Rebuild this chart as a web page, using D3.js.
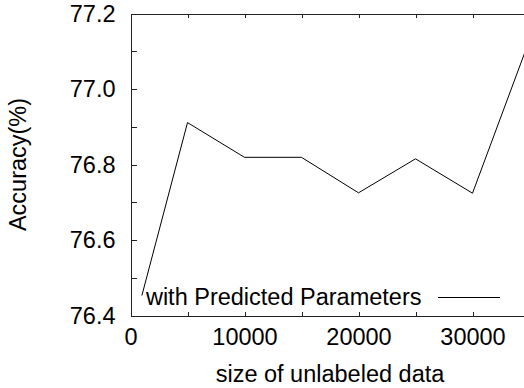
<!DOCTYPE html>
<html>
<head>
<meta charset="utf-8">
<script src="https://cdn.jsdelivr.net/npm/d3@7"></script>
<style>
  html, body { margin: 0; padding: 0; background: #fff; }
  svg { display: block; font-family: "Liberation Sans", Arial, Helvetica, sans-serif; }
  .axis path, .axis line { stroke: #222; stroke-width: 1; shape-rendering: crispEdges; }
  .axis text { fill: #000; font-size: 23.5px; }
</style>
</head>
<body>
<div id="chart"></div>
<script>
// data
const unlabeledSizes = [1000, 5000, 10000, 15000, 20000, 25000, 30000, 35000];
const accuracyValues = [76.453, 76.911, 76.819, 76.819, 76.725, 76.815, 76.724, 77.13];
const xTickValues = [0, 5000, 10000, 15000, 20000, 25000, 30000, 35000];
const xLabelValues = [0, 10000, 20000, 30000];
const yTickValues = [76.4, 76.5, 76.6, 76.7, 76.8, 76.9, 77.0, 77.1, 77.2];
const yLabelValues = ['76.4', '76.6', '76.8', '77.0', '77.2'];
const seriesName = 'with Predicted Parameters';

const width = 524, height = 388;
const plotL = 130.5, plotR = 529.5, plotT = 13.5, plotB = 315.5;
const fontSize = '23.5px';

const svg = d3.select('#chart').append('svg')
  .attr('width', width)
  .attr('height', height);

const x = d3.scaleLinear().domain([0, 35000]).range([plotL, plotR]);
const y = d3.scaleLinear().domain([76.4, 77.2]).range([plotB, plotT]);

const xFmt = (d) => (xLabelValues.includes(d) ? String(d) : '');
const yFmt = (d) => {
  const s = d.toFixed(1);
  return yLabelValues.includes(s) ? s : '';
};

// bottom axis, ticks pointing in
svg.append('g')
  .attr('class', 'axis')
  .attr('transform', `translate(0,${plotB})`)
  .call(d3.axisBottom(x).tickValues(xTickValues).tickSizeInner(-4).tickSizeOuter(0)
    .tickPadding(13).tickFormat(xFmt));

// top axis
svg.append('g')
  .attr('class', 'axis')
  .attr('transform', `translate(0,${plotT})`)
  .call(d3.axisTop(x).tickValues(xTickValues).tickSizeInner(-4).tickSizeOuter(0)
    .tickFormat(() => ''));

// left axis
svg.append('g')
  .attr('class', 'axis')
  .attr('transform', `translate(${plotL},0)`)
  .call(d3.axisLeft(y).tickValues(yTickValues).tickSizeInner(-6).tickSizeOuter(0)
    .tickPadding(15).tickFormat(yFmt));

// right axis (falls outside the window, as in the reference)
svg.append('g')
  .attr('class', 'axis')
  .attr('transform', `translate(${plotR},0)`)
  .call(d3.axisRight(y).tickValues(yTickValues).tickSizeInner(-6).tickSizeOuter(0)
    .tickFormat(() => ''));

// the series
const pts = unlabeledSizes.map((s, i) => ({ size: s, acc: accuracyValues[i] }));
const line = d3.line().x((d) => x(d.size)).y((d) => y(d.acc));

svg.append('path')
  .datum(pts)
  .attr('d', line)
  .attr('fill', 'none')
  .attr('stroke', '#000')
  .attr('stroke-width', 1);

// legend
svg.append('text')
  .attr('x', 421.5)
  .attr('y', 305)
  .attr('text-anchor', 'end')
  .attr('font-size', fontSize)
  .attr('fill', '#000')
  .text(seriesName);

svg.append('line')
  .attr('x1', 438).attr('x2', 500)
  .attr('y1', 297.5).attr('y2', 297.5)
  .attr('stroke', '#000')
  .attr('stroke-width', 1);

// axis titles
svg.append('text')
  .attr('x', (plotL + plotR) / 2)
  .attr('y', 382)
  .attr('text-anchor', 'middle')
  .attr('font-size', fontSize)
  .attr('fill', '#000')
  .text('size of unlabeled data');

svg.append('text')
  .attr('transform', `translate(26,${(plotT + plotB) / 2}) rotate(-90)`)
  .attr('text-anchor', 'middle')
  .attr('font-size', fontSize)
  .attr('fill', '#000')
  .text('Accuracy(%)');
</script>
</body>
</html>
